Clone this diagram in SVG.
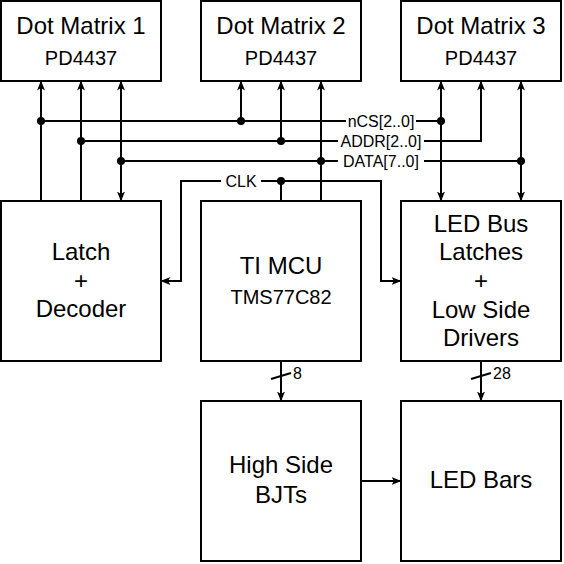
<svg xmlns="http://www.w3.org/2000/svg" width="564" height="564" viewBox="0 0 564 564">
<defs>
<style>
.box{fill:#fff;stroke:#000;stroke-width:2}
.t24{font-family:"Liberation Sans",Arial,sans-serif;font-size:24px;text-anchor:middle;fill:#000}
.t20{font-family:"Liberation Sans",Arial,sans-serif;font-size:20px;text-anchor:middle;fill:#000}
.t16{font-family:"Liberation Sans",Arial,sans-serif;font-size:16px;fill:#000}
.w{fill:none;stroke:#000;stroke-width:2}
.a{marker-end:url(#arr)}
.b{marker-start:url(#arr);marker-end:url(#arr)}
.bg{fill:#fff}
</style>
<marker id="arr" viewBox="0 0 10 8" refX="9.5" refY="4" markerWidth="10" markerHeight="8" orient="auto-start-reverse" markerUnits="userSpaceOnUse">
<path d="M0,0 L10,4 L0,8 L2.5,4 z" fill="#000"/>
</marker>
</defs>
<rect width="564" height="564" fill="#fff"/>
<g id="connectors">
<path class="w a" d="M41,201 V81"/>
<path class="w a" d="M81,201 V81"/>
<path class="w b" d="M121,201 V81"/>
<path class="w" d="M41,121 H441"/>
<path class="w a" d="M241,121 V81"/>
<path class="w a" d="M81,141 H481 V81"/>
<path class="w a" d="M281,141 V81"/>
<path class="w" d="M121,161 H521"/>
<path class="w a" d="M321,201 V81"/>
<path class="w b" d="M441,201 V81"/>
<path class="w b" d="M521,201 V81"/>
<path class="w" d="M281,201 V181"/>
<path class="w a" d="M281,181 H181 V281 H161"/>
<path class="w a" d="M281,181 H381 V281 H401"/>
<path class="w a" d="M281,361 V401"/>
<path class="w a" d="M481,361 V401"/>
<path class="w a" d="M361,481 H401"/>
<path class="w" d="M271,379 L291,373"/>
<path class="w" d="M471,379 L491,373"/>
<g fill="#000">
<circle cx="41" cy="121" r="4"/>
<circle cx="241" cy="121" r="4"/>
<circle cx="441" cy="121" r="4"/>
<circle cx="81" cy="141" r="4"/>
<circle cx="281" cy="141" r="4"/>
<circle cx="121" cy="161" r="4"/>
<circle cx="321" cy="161" r="4"/>
<circle cx="521" cy="161" r="4"/>
<circle cx="281" cy="181" r="4"/>
</g>
<rect class="bg" x="346" y="112" width="70" height="18"/>
<text class="t16" x="381" y="127" text-anchor="middle">nCS[2..0]</text>
<rect class="bg" x="338" y="132" width="86" height="18"/>
<rect class="bg" x="338" y="131" width="86" height="18"/>
<text class="t16" x="381" y="147" text-anchor="middle">ADDR[2..0]</text>
<rect class="bg" x="338" y="152" width="86" height="18"/>
<text class="t16" x="381" y="167" text-anchor="middle">DATA[7..0]</text>
<rect class="bg" x="221" y="172" width="40" height="18"/>
<text class="t16" x="241" y="187" text-anchor="middle">CLK</text>
<text class="t16" x="293" y="379">8</text>
<text class="t16" x="493" y="379">28</text>
</g>
<g id="dm1"><rect class="box" x="1" y="1" width="160" height="80"/><text class="t24" x="81" y="34">Dot Matrix 1</text><text class="t20" x="81" y="65">PD4437</text></g>
<g id="dm2"><rect class="box" x="201" y="1" width="160" height="80"/><text class="t24" x="281" y="34">Dot Matrix 2</text><text class="t20" x="281" y="65">PD4437</text></g>
<g id="dm3"><rect class="box" x="401" y="1" width="160" height="80"/><text class="t24" x="481" y="34">Dot Matrix 3</text><text class="t20" x="481" y="65">PD4437</text></g>
<g id="latch"><rect class="box" x="1" y="201" width="160" height="160"/><text class="t24" x="81" y="260">Latch</text><text class="t24" x="81" y="289">+</text><text class="t24" x="81" y="317">Decoder</text></g>
<g id="mcu"><rect class="box" x="201" y="201" width="160" height="160"/><text class="t24" x="281" y="274">TI MCU</text><text class="t20" x="281" y="304">TMS77C82</text></g>
<g id="ledbus"><rect class="box" x="401" y="201" width="160" height="160"/><text class="t24" x="481" y="232">LED Bus</text><text class="t24" x="481" y="260">Latches</text><text class="t24" x="481" y="289">+</text><text class="t24" x="481" y="318">Low Side</text><text class="t24" x="481" y="346">Drivers</text></g>
<g id="bjts"><rect class="box" x="201" y="401" width="160" height="160"/><text class="t24" x="281" y="473">High Side</text><text class="t24" x="281" y="503">BJTs</text></g>
<g id="bars"><rect class="box" x="401" y="401" width="160" height="160"/><text class="t24" x="481" y="488">LED Bars</text></g>
</svg>
